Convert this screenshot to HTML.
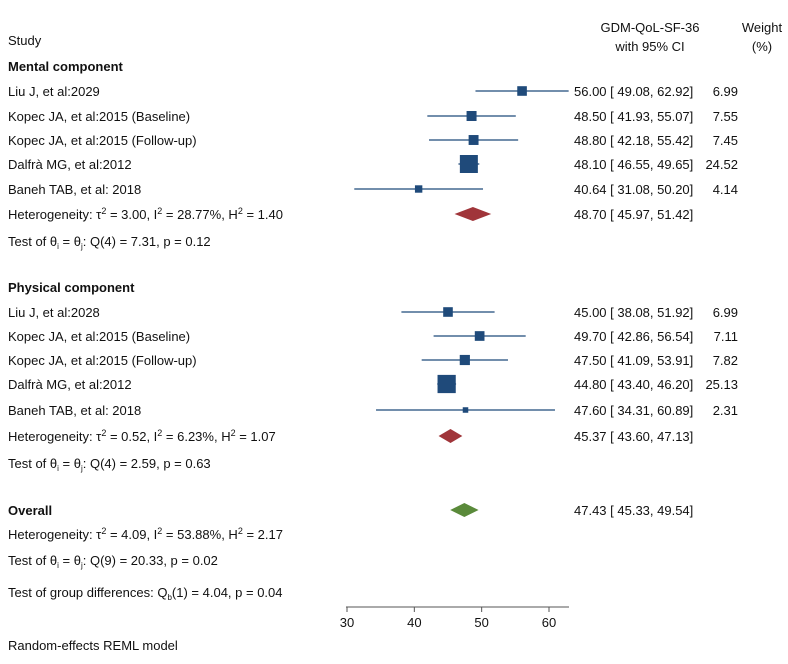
<!DOCTYPE html>
<html><head><meta charset="utf-8"><style>
body{margin:0;background:#fff;}
svg text{font-family:"Liberation Sans",Arial,sans-serif;font-size:13px;fill:#111;white-space:pre;}
</style></head><body>
<svg id="c" width="788" height="659" xmlns="http://www.w3.org/2000/svg">
<text x="8" y="45">Study</text>
<text x="650" y="32" text-anchor="middle">GDM-QoL-SF-36</text>
<text x="650" y="51" text-anchor="middle">with 95% CI</text>
<text x="762" y="32" text-anchor="middle">Weight</text>
<text x="762" y="51" text-anchor="middle">(%)</text>
<g id="g"></g>
<text x="8" y="650">Random-effects REML model</text>
</svg>
<script>
const studies=["Liu J, et al:2029","Kopec JA, et al:2015 (Baseline)","Kopec JA, et al:2015 (Follow-up)","Dalfrà MG, et al:2012","Baneh TAB, et al: 2018","Liu J, et al:2028","Kopec JA, et al:2015 (Baseline)","Kopec JA, et al:2015 (Follow-up)","Dalfrà MG, et al:2012","Baneh TAB, et al: 2018"];
const est=[56.00,48.50,48.80,48.10,40.64,45.00,49.70,47.50,44.80,47.60];
const lo=[49.08,41.93,42.18,46.55,31.08,38.08,42.86,41.09,43.40,34.31];
const hi=[62.92,55.07,55.42,49.65,50.20,51.92,56.54,53.91,46.20,60.89];
const weights=[6.99,7.55,7.45,24.52,4.14,6.99,7.11,7.82,25.13,2.31];
const pooledEst=[48.70,45.37,47.43];
const pooledLo=[45.97,43.60,45.33];
const pooledHi=[51.42,47.13,49.54];
const ticks=[30,40,50,60];
const rowY=[91,116,140,164,189,312,336,360,384,410];
const poolY=[214,436,510];
const poolCol=["#a0353a","#a0353a","#5a8a3a"];
const X=v=>347+(v-30)*6.733;
const g=document.getElementById('g');
const NS="http://www.w3.org/2000/svg";
function mk(t,a,txt){const e=document.createElementNS(NS,t);for(const k in a)e.setAttribute(k,a[k]);if(txt!=null)e.textContent=txt;g.appendChild(e);return e;}
const f=n=>n.toFixed(2);
const pad=n=>" "+f(n);
let e;
e=mk('text',{x:8,y:71,'font-weight':'bold'},'Mental component');


e=mk('text',{x:8,y:292,'font-weight':'bold'},'Physical component');


e=mk('text',{x:8,y:515,'font-weight':'bold'},'Overall');


studies.forEach((s,i)=>{
 const y=rowY[i];
 e=mk('text',{x:8,y:y+5},s);
 
 
 e=mk('line',{x1:X(lo[i]),x2:X(hi[i]),y1:y,y2:y,stroke:'#1f4a7a','stroke-width':1.3});
 
 
 const sz=18*Math.sqrt(weights[i]/24.52);
 e=mk('rect',{x:X(est[i])-sz/2,y:y-sz/2,width:sz,height:sz,fill:'#1f4a7a'});
 
 
 e=mk('text',{x:574,y:y+5},f(est[i])+" ["+pad(lo[i])+","+pad(hi[i])+"]");
 
 
 e=mk('text',{x:738,y:y+5,'text-anchor':'end'},f(weights[i]));
 
 
});
pooledEst.forEach((p,i)=>{
 const y=poolY[i];
 e=mk('polygon',{points:`${X(pooledLo[i])},${y} ${X(p)},${y-7} ${X(pooledHi[i])},${y} ${X(p)},${y+7}`,fill:poolCol[i]});
 
 
 e=mk('text',{x:574,y:y+5},f(p)+" ["+pad(pooledLo[i])+","+pad(pooledHi[i])+"]");
 
 
});
const notes=[[219,'Heterogeneity: τ<tspan dy="-5" font-size="9">2</tspan><tspan dy="5"> = 3.00, I</tspan><tspan dy="-5" font-size="9">2</tspan><tspan dy="5"> = 28.77%, H</tspan><tspan dy="-5" font-size="9">2</tspan><tspan dy="5"> = 1.40</tspan>'],
[246,'Test of θ<tspan dy="3" font-size="8">i</tspan><tspan dy="-3"> = θ</tspan><tspan dy="3" font-size="8">j</tspan><tspan dy="-3">: Q(4) = 7.31, p = 0.12</tspan>'],
[441,'Heterogeneity: τ<tspan dy="-5" font-size="9">2</tspan><tspan dy="5"> = 0.52, I</tspan><tspan dy="-5" font-size="9">2</tspan><tspan dy="5"> = 6.23%, H</tspan><tspan dy="-5" font-size="9">2</tspan><tspan dy="5"> = 1.07</tspan>'],
[468,'Test of θ<tspan dy="3" font-size="8">i</tspan><tspan dy="-3"> = θ</tspan><tspan dy="3" font-size="8">j</tspan><tspan dy="-3">: Q(4) = 2.59, p = 0.63</tspan>'],
[539,'Heterogeneity: τ<tspan dy="-5" font-size="9">2</tspan><tspan dy="5"> = 4.09, I</tspan><tspan dy="-5" font-size="9">2</tspan><tspan dy="5"> = 53.88%, H</tspan><tspan dy="-5" font-size="9">2</tspan><tspan dy="5"> = 2.17</tspan>'],
[565,'Test of θ<tspan dy="3" font-size="8">i</tspan><tspan dy="-3"> = θ</tspan><tspan dy="3" font-size="8">j</tspan><tspan dy="-3">: Q(9) = 20.33, p = 0.02</tspan>'],
[597,'Test of group differences: Q<tspan dy="3" font-size="8">b</tspan><tspan dy="-3">(1) = 4.04, p = 0.04</tspan>']];
notes.forEach(n=>{
 e=mk('text',{x:8,y:n[0]});
 e.innerHTML=n[1];
 
 
});
e=mk('line',{x1:346,x2:569,y1:607,y2:607,stroke:'#555','stroke-width':1});


ticks.forEach(t=>{
 e=mk('line',{x1:X(t),x2:X(t),y1:607,y2:612,stroke:'#555'});
 
 
 e=mk('text',{x:X(t),y:627,'text-anchor':'middle'},String(t));
 
 
});
</script>
</body></html>
